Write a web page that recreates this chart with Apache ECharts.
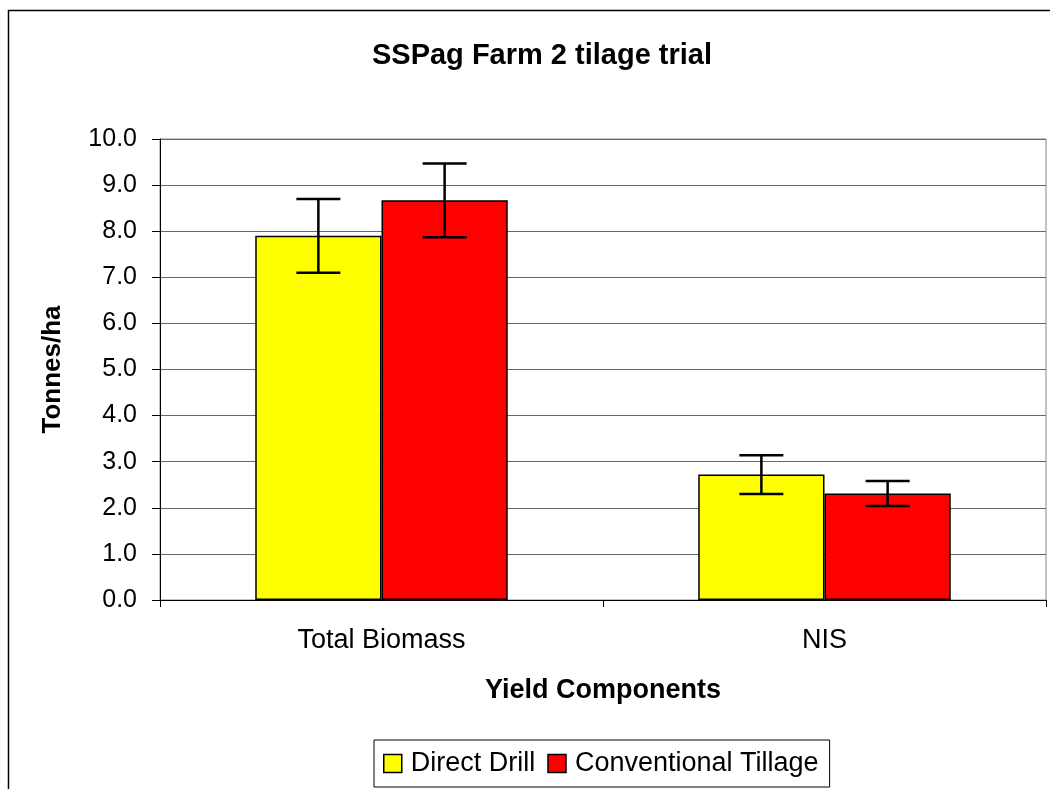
<!DOCTYPE html>
<html><head><meta charset="utf-8">
<script src="https://cdn.jsdelivr.net/npm/echarts@6/dist/echarts.min.js"></script>
<style>html,body{margin:0;padding:0;background:#fff}#c{width:1050px;height:789px}</style>
</head><body><div id="c"></div>
<script>
const categories = ['Total Biomass', 'NIS'];
const seriesNames = ['Direct Drill', 'Conventional Tillage'];
const directDrill = [7.9, 2.72];
const directDrillErr = [0.8, 0.42];
const convTillage = [8.67, 2.31];
const convTillageErr = [0.8, 0.27];
const yTicks = [0,1,2,3,4,5,6,7,8,9,10];

const FONT = 'Liberation Sans, Arial, sans-serif';
const GAP = 0.43;
function errSeries(vals, errs, idx) {
  return {
    type: 'custom', silent: true, z: 5,
    data: vals.map((v, i) => [i, v - errs[i], v + errs[i]]),
    renderItem: function (params, api) {
      const i = api.value(0);
      const lo = api.coord([i, api.value(1)]);
      const hi = api.coord([i, api.value(2)]);
      const catW = api.size([1, 0])[0];
      const bw = catW * (1 - GAP) / 2;
      const x = lo[0] + (idx === 0 ? -bw / 2 : bw / 2);
      const cap = 22;
      const st = { stroke: '#000', lineWidth: 2.5 };
      return { type: 'group', children: [
        { type: 'line', shape: { x1: x, y1: lo[1], x2: x, y2: hi[1] }, style: st },
        { type: 'line', shape: { x1: x - cap, y1: lo[1], x2: x + cap, y2: lo[1] }, style: st },
        { type: 'line', shape: { x1: x - cap, y1: hi[1], x2: x + cap, y2: hi[1] }, style: st }
      ]};
    }
  };
}
const chart = echarts.init(document.getElementById('c'), null, { renderer: 'canvas' });
chart.setOption({
  backgroundColor: '#fff',
  animation: false,
  textStyle: { fontFamily: FONT },
  title: { text: 'SSPag Farm 2 tilage trial', left: 537, textAlign: 'center', top: 36,
    textStyle: { fontFamily: FONT, fontSize: 29, fontWeight: 'bold', color: '#000' } },
  graphic: [{ type: 'rect', shape: { x: 8.5, y: 10.5, width: 1100, height: 900 },
    style: { fill: null, stroke: '#000', lineWidth: 1.5 }, silent: true }],
  legend: {
    data: seriesNames, left: 374, top: 740, orient: 'horizontal',
    icon: 'rect', itemWidth: 18, itemHeight: 18, itemGap: 12,
    borderColor: '#000', borderWidth: 1, padding: [10, 11, 10, 9],
    textStyle: { fontFamily: FONT, fontSize: 27, color: '#000', padding: [0, 0, 0, 4] },
    itemStyle: { borderColor: '#000', borderWidth: 1.5 }
  },
  grid: { left: 160, right: 4, top: 139, bottom: 189, show: true, borderColor: '#888', borderWidth: 1 },
  xAxis: {
    type: 'category', data: categories,
    name: 'Yield Components', nameLocation: 'middle', nameGap: 77,
    nameTextStyle: { fontFamily: FONT, fontSize: 27, fontWeight: 'bold', color: '#000' },
    axisLine: { lineStyle: { color: '#000', width: 1 } },
    axisTick: { show: true, length: 7, lineStyle: { color: '#000' } },
    axisLabel: { fontFamily: FONT, fontSize: 27, color: '#000', margin: 27 }
  },
  yAxis: {
    type: 'value', min: yTicks[0], max: yTicks[yTicks.length - 1], interval: 1,
    name: 'Tonnes/ha', nameLocation: 'middle', nameGap: 94, nameRotate: 90,
    nameTextStyle: { fontFamily: FONT, fontSize: 26, fontWeight: 'bold', color: '#000' },
    axisLine: { show: true, lineStyle: { color: '#000', width: 1 } },
    axisTick: { show: true, length: 8, inside: false, lineStyle: { color: '#000' } },
    axisLabel: { fontFamily: FONT, fontSize: 25, color: '#000', margin: 23, formatter: v => v.toFixed(1) },
    splitLine: { show: true, lineStyle: { color: '#666', width: 1 } }
  },
  series: [
    { name: seriesNames[0], type: 'bar', data: directDrill, barGap: '0%', barCategoryGap: '43%',
      itemStyle: { color: '#ffff00', borderColor: '#000', borderWidth: 1.5 } },
    { name: seriesNames[1], type: 'bar', data: convTillage, barGap: '0%', barCategoryGap: '43%',
      itemStyle: { color: '#ff0000', borderColor: '#000', borderWidth: 1.5 } },
    errSeries(directDrill, directDrillErr, 0),
    errSeries(convTillage, convTillageErr, 1)
  ]
});
</script></body></html>
